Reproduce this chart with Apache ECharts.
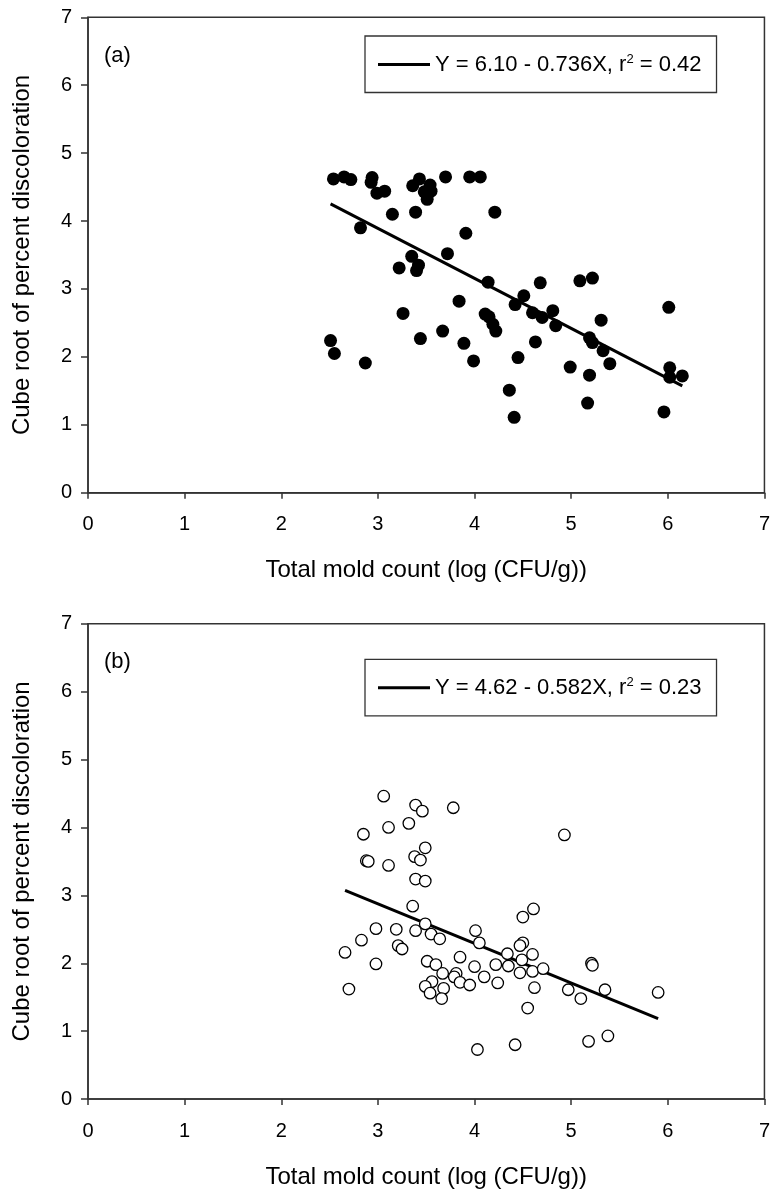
<!DOCTYPE html>
<html>
<head>
<meta charset="utf-8">
<script src="https://cdn.jsdelivr.net/npm/echarts@6/dist/echarts.min.js"></script>
<style>
html,body{margin:0;padding:0;background:#fff;}
#chart{width:773px;height:1193px;}
</style>
</head>
<body>
<div id="chart"></div>
<script>
// Panel (a): total mold count (log CFU/g) vs cube root of percent discoloration
var moldA = [2.54,2.65,2.72,2.94,2.93,2.99,3.07,3.36,3.43,3.54,3.55,3.48,3.51,3.70,3.95,4.06,3.15,3.39,4.21,2.82,3.91,3.72,3.35,3.42,3.22,3.40,4.14,4.68,5.09,5.22,4.51,4.42,3.84,3.26,4.60,4.70,4.81,4.84,4.11,4.15,4.19,4.22,5.31,5.19,5.22,5.33,5.40,6.01,6.02,6.02,6.15,5.96,5.17,5.19,4.99,4.63,4.45,4.36,4.41,3.99,3.89,3.67,3.44,2.51,2.55,2.87];
var discA = [4.62,4.65,4.61,4.64,4.57,4.41,4.44,4.52,4.62,4.53,4.44,4.43,4.32,4.65,4.65,4.65,4.10,4.13,4.13,3.90,3.82,3.52,3.48,3.35,3.31,3.27,3.10,3.09,3.12,3.16,2.90,2.77,2.82,2.64,2.65,2.58,2.68,2.46,2.63,2.59,2.48,2.38,2.54,2.28,2.21,2.09,1.90,2.73,1.84,1.70,1.72,1.19,1.32,1.73,1.85,2.22,1.99,1.51,1.11,1.94,2.20,2.38,2.27,2.24,2.05,1.91];
// Panel (b)
var moldB = [3.06,3.39,3.46,3.78,2.85,3.11,3.32,3.49,3.38,3.44,2.88,2.90,3.11,3.39,3.49,3.36,3.49,2.98,3.19,3.39,2.83,3.21,3.25,2.66,2.98,2.70,3.51,4.93,4.61,4.50,3.55,3.64,4.01,4.05,4.50,4.47,3.60,3.85,4.00,4.10,3.67,3.81,3.79,3.85,3.95,4.24,3.56,3.49,3.54,3.68,3.66,4.34,4.22,4.35,4.49,4.60,4.47,4.60,4.71,4.62,4.55,4.97,5.10,5.21,5.22,5.35,5.90,4.03,4.42,5.18,5.38];
var discB = [4.46,4.33,4.24,4.29,3.90,4.00,4.06,3.70,3.57,3.52,3.51,3.50,3.44,3.24,3.21,2.84,2.58,2.51,2.50,2.48,2.34,2.26,2.21,2.16,1.99,1.62,2.03,3.89,2.80,2.68,2.43,2.36,2.48,2.30,2.30,2.26,1.98,2.09,1.95,1.80,1.85,1.85,1.80,1.72,1.68,1.71,1.73,1.66,1.56,1.63,1.48,2.14,1.98,1.96,2.05,2.13,1.86,1.88,1.92,1.64,1.34,1.61,1.48,2.00,1.97,1.61,1.57,0.73,0.80,0.85,0.93];
// Regression fits [intercept, slope]
var fitA = [6.10, -0.736];
var fitB = [4.62, -0.582];
var legendA = 'Y = 6.10 - 0.736X, r{sup|2} = 0.42';
var legendB = 'Y = 4.62 - 0.582X, r{sup|2} = 0.23';
var panelLabels = ['(a)', '(b)'];
var xTitle = 'Total mold count (log (CFU/g))';
var yTitle = 'Cube root of percent discoloration';

function pairs(xs, ys){ return xs.map(function(x,i){ return [x, ys[i]]; }); }
function fitLine(xs, fit){
  var lo = Math.min.apply(null, xs), hi = Math.max.apply(null, xs);
  return [[lo, fit[0] + fit[1]*lo], [hi, fit[0] + fit[1]*hi]];
}

var FONT = '"Liberation Sans", Arial, sans-serif';
var AX = '#333';
function xAxis(idx){
  return {
    gridIndex: idx, type: 'value', min: 0, max: 7, interval: 1,
    name: xTitle, nameLocation: 'middle', nameGap: 66,
    nameTextStyle: {fontFamily: FONT, fontSize: 24, color: '#000'},
    axisLine: {show: true, onZero: false, lineStyle: {color: AX, width: 1.5}},
    axisTick: {show: true, inside: false, length: 6, lineStyle: {color: AX, width: 1.5}},
    axisLabel: {fontFamily: FONT, fontSize: 20, color: '#000', margin: 22},
    splitLine: {show: false}
  };
}
function yAxis(idx){
  return {
    gridIndex: idx, type: 'value', min: 0, max: 7, interval: 1,
    name: yTitle, nameLocation: 'middle', nameGap: 54, nameRotate: 90,
    nameTextStyle: {fontFamily: FONT, fontSize: 24, color: '#000'},
    axisLine: {show: true, onZero: false, lineStyle: {color: AX, width: 1.5}},
    axisTick: {show: true, inside: false, length: 7, lineStyle: {color: AX, width: 1.5}},
    axisLabel: {fontFamily: FONT, fontSize: 20, color: '#000', margin: 16},
    splitLine: {show: false}
  };
}
function legend(name, top, fmt){
  return {
    data: [{name: name, icon: 'rect'}], left: 365, top: top, orient: 'horizontal',
    itemWidth: 52, itemHeight: 3, itemGap: 0,
    padding: [17, 15, 17, 13],
    borderColor: AX, borderWidth: 1.3, backgroundColor: '#fff',
    formatter: function(){ return fmt; },
    textStyle: {fontFamily: FONT, fontSize: 22, color: '#000',
      rich: {sup: {fontFamily: FONT, fontSize: 13, color: '#000', verticalAlign: 'top', padding: [0,0,10,0]}}},
    selectedMode: false
  };
}

var chart = echarts.init(document.getElementById('chart'), null, {renderer: 'canvas'});
chart.setOption({
  animation: false,
  backgroundColor: '#fff',
  grid: [
    {left: 88, top: 17.3, width: 678, height: 475.4, show: true, borderColor: AX, borderWidth: 1.5},
    {left: 88, top: 623.7, width: 678, height: 475.4, show: true, borderColor: AX, borderWidth: 1.5}
  ],
  xAxis: [xAxis(0), xAxis(1)],
  yAxis: [yAxis(0), yAxis(1)],
  legend: [legend('fitA', 36, legendA), legend('fitB', 659.3, legendB)],
  graphic: [
    {type: 'text', left: 104, top: 45, style: {text: panelLabels[0], font: '22px ' + FONT, fill: '#000'}},
    {type: 'text', left: 104, top: 651, style: {text: panelLabels[1], font: '22px ' + FONT, fill: '#000'}}
  ],
  series: [
    {type: 'scatter', name: 'dataA', xAxisIndex: 0, yAxisIndex: 0, data: pairs(moldA, discA),
      symbol: 'circle', symbolSize: 13, itemStyle: {color: '#000', opacity: 1}, z: 3},
    {type: 'line', name: 'fitA', xAxisIndex: 0, yAxisIndex: 0, data: fitLine(moldA, fitA),
      symbol: 'none', lineStyle: {color: '#000', width: 3}, itemStyle: {color: '#000'}, z: 4},
    {type: 'scatter', name: 'dataB', xAxisIndex: 1, yAxisIndex: 1, data: pairs(moldB, discB),
      symbol: 'circle', symbolSize: 11.5, itemStyle: {color: '#fff', borderColor: '#000', borderWidth: 1.3, opacity: 1}, z: 4},
    {type: 'line', name: 'fitB', xAxisIndex: 1, yAxisIndex: 1, data: fitLine(moldB, fitB),
      symbol: 'none', lineStyle: {color: '#000', width: 3}, itemStyle: {color: '#000'}, z: 3}
  ]
});
</script>
</body>
</html>
